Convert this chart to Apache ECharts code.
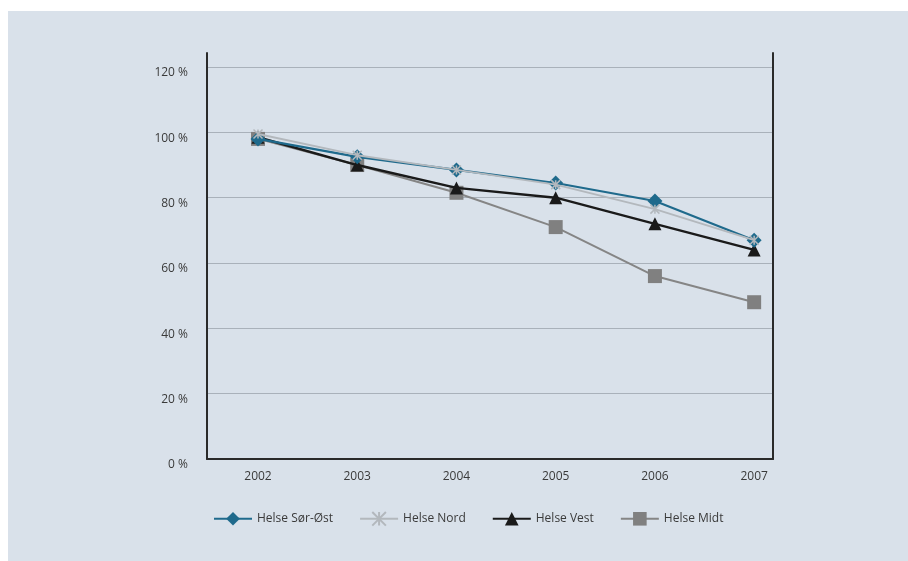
<!DOCTYPE html>
<html>
<head>
<meta charset="utf-8">
<script src="https://cdn.jsdelivr.net/npm/echarts@6/dist/echarts.min.js"></script>
<style>
html,body{margin:0;padding:0;background:#ffffff;}
#c{width:908px;height:561px;}
</style>
</head>
<body>
<div id="c"></div>
<script>
var years = [2002, 2003, 2004, 2005, 2006, 2007];
var seriesNames = ['Helse Sør-Øst', 'Helse Nord', 'Helse Vest', 'Helse Midt'];
var sorOst = [98, 92.5, 88.5, 84.5, 79, 67];
var nord   = [99.5, 93, 88.5, 84, 76.5, 67];
var vest   = [98.5, 90, 83, 80, 72, 64];
var midt   = [98, 90, 81.5, 71, 56, 48];
var yTicks = [0, 20, 40, 60, 80, 100, 120];

function pairs(vals){ return years.map(function(y,i){ return [y, vals[i]]; }); }

var chart = echarts.init(document.getElementById('c'), null, {renderer:'canvas'});
var font = 'Open Sans, Liberation Sans, sans-serif';
chart.setOption({
  animation:false,
  backgroundColor:'#ffffff',
  graphic:[{type:'rect', left:8, top:11, shape:{width:900, height:550}, style:{fill:'#d9e1ea'}, z:-10, silent:true}],
  grid:{left:207, right:135, top:53, bottom:102},
  legend:{
    data:seriesNames,
    left:208, top:506, itemWidth:38, itemHeight:17, itemGap:26,
    textStyle:{color:'#3a3a3a', fontSize:12, fontFamily:font}
  },
  xAxis:{
    type:'value', min:2001.486, max:2007.19,
    axisLine:{show:true, lineStyle:{color:'#2a2a2a', width:2}},
    axisTick:{show:false},
    splitLine:{show:false},
    axisLabel:{customValues:years, color:'#3a3a3a', fontSize:12, fontFamily:font, margin:12, formatter:function(v){return String(v);}}
  },
  yAxis:[{
    type:'value', min:0, max:124.3, interval:20,
    axisLine:{show:true, lineStyle:{color:'#2a2a2a', width:2}},
    axisTick:{show:false},
    splitLine:{show:true, showMinLine:false, showMaxLine:false, lineStyle:{color:'#a9b1ba', width:1}},
    axisLabel:{showMaxLabel:false, color:'#3a3a3a', fontSize:12, fontFamily:font, margin:19, verticalAlign:'top', lineHeight:12,
      formatter:function(v){ return yTicks.indexOf(v) >= 0 ? v + ' %' : ''; }}
  },{
    type:'value', min:0, max:124.3, interval:20, position:'right',
    axisLine:{show:true, lineStyle:{color:'#2a2a2a', width:2}},
    axisTick:{show:false}, axisLabel:{show:false}, splitLine:{show:false}
  }],
  series:[
    {name:'Helse Sør-Øst', type:'line', data:pairs(sorOst), z:4,
     symbol:'diamond', symbolSize:15,
     lineStyle:{color:'#1f6a8c', width:2.2}, itemStyle:{color:'#1f6a8c'}},
    {name:'Helse Nord', type:'line', data:pairs(nord), z:5,
     symbol:'path://M0,0 L10,10 M10,0 L0,10 M5,0 L5,10', symbolSize:9,
     lineStyle:{color:'#b3b8bd', width:1.8}, itemStyle:{color:'#b3b8bd', borderColor:'#b3b8bd', borderWidth:1.5}},
    {name:'Helse Vest', type:'line', data:pairs(vest), z:3,
     symbol:'triangle', symbolSize:13,
     lineStyle:{color:'#1a1a1a', width:2.4}, itemStyle:{color:'#1a1a1a'}},
    {name:'Helse Midt', type:'line', data:pairs(midt), z:2,
     symbol:'rect', symbolSize:14,
     lineStyle:{color:'#858585', width:2}, itemStyle:{color:'#808080'}}
  ]
});
</script>
</body>
</html>
